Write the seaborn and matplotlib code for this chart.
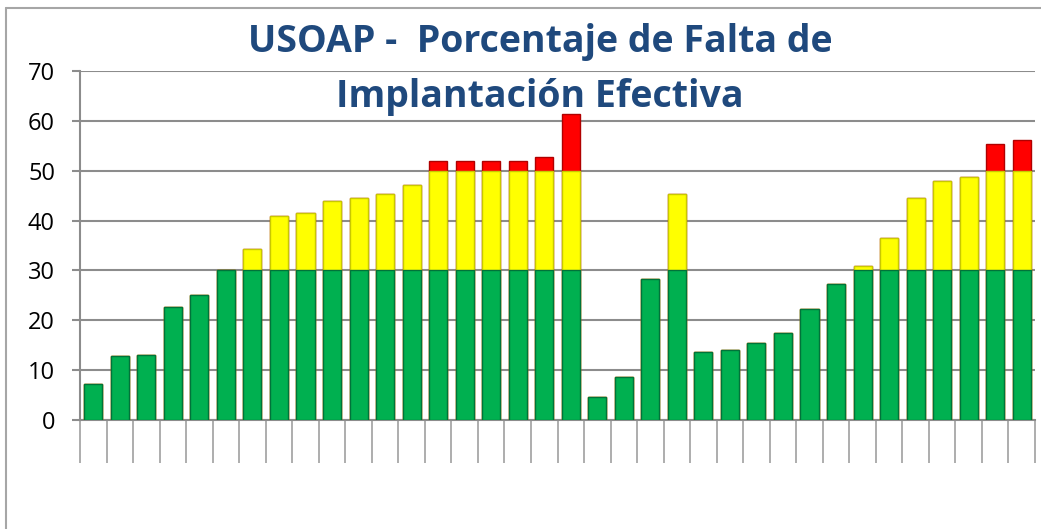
import numpy as np
import pandas as pd
import seaborn as sns
from matplotlib import pyplot as plt
from matplotlib.lines import Line2D

# valores por tramo (verde hasta 30, amarillo 30-50, rojo sobre 50)
verde = [7.3, 12.8, 13.1, 22.6, 25.0, 30.0, 30, 30, 30, 30, 30, 30, 30, 30, 30, 30, 30, 30, 30,
         4.6, 8.7, 28.3, 30, 13.6, 14.0, 15.4, 17.4, 22.3, 27.2, 30, 30, 30, 30, 30, 30, 30]
amarillo = [0, 0, 0, 0, 0, 0.1, 4.3, 11.0, 11.5, 14.0, 14.6, 15.3, 17.2, 20, 20, 20, 20, 20, 20,
            0, 0, 0, 15.4, 0, 0, 0, 0, 0, 0, 0.8, 6.6, 14.6, 18.0, 18.8, 20, 20]
rojo = [0, 0, 0, 0, 0, 0, 0, 0, 0, 0, 0, 0, 0, 2.0, 2.0, 2.0, 2.0, 2.7, 11.4,
        0, 0, 0, 0, 0, 0, 0, 0, 0, 0, 0, 0, 0, 0, 0, 5.4, 6.1]

n = len(verde)
df = pd.DataFrame({'idx': np.arange(n), 'verde': verde, 'amarillo': amarillo, 'rojo': rojo})
df['t2'] = df['verde'] + df['amarillo']
df['t3'] = df['t2'] + df['rojo']

sns.set_style('white')
plt.rcParams['font.family'] = ['Open Sans', 'DejaVu Sans']

fig = plt.figure(figsize=(10.41, 5.29), dpi=100)
ax = fig.add_axes([80 / 1041, 1 - 420 / 529, 955 / 1041, 349 / 529])

w = 0.68
sns.barplot(data=df, x='idx', y='t3', color='#FF0000', saturation=1, width=w,
            edgecolor='#B00000', linewidth=1, ax=ax, zorder=3)
sns.barplot(data=df, x='idx', y='t2', color='#FFFF00', saturation=1, width=w,
            edgecolor='#C8C800', linewidth=1, ax=ax, zorder=3)
sns.barplot(data=df, x='idx', y='verde', color='#00B050', saturation=1, width=w,
            edgecolor='#00733A', linewidth=1, ax=ax, zorder=3)

ax.set_xlim(-0.5, n - 0.5)
ax.set_ylim(0, 70)
ax.set_yticks(range(0, 71, 10))
ax.set_xticks([])
ax.set_xticks(np.arange(-0.5, n, 1), minor=True)
ax.set_xlabel('')
ax.set_ylabel('')
ax.yaxis.grid(True, color='#8C8C8C', linewidth=1.5, zorder=0)
ax.set_axisbelow(True)
for s in ['top', 'right']:
    ax.spines[s].set_visible(False)
for s in ['left', 'bottom']:
    ax.spines[s].set_color('#8C8C8C')
    ax.spines[s].set_linewidth(1.5)
ax.tick_params(axis='y', which='major', direction='out', length=6, width=1.5,
               color='#8C8C8C', labelsize=17, labelcolor='black', pad=12, left=True)
ax.tick_params(axis='x', which='minor', direction='out', length=31, width=1.2,
               color='#A0A0A0', bottom=True)

fig.text(0.519, 1 - 42 / 529, 'USOAP -  Porcentaje de Falta de',
         ha='center', va='center', fontsize=27, fontweight='bold', color='#1F497D')
fig.text(0.519, 1 - 97 / 529, 'Implantación Efectiva',
         ha='center', va='center', fontsize=27, fontweight='bold', color='#1F497D')

# marco del gráfico
fig.add_artist(Line2D([6 / 1041, 6 / 1041], [0, 1 - 8 / 529], transform=fig.transFigure,
                      color='#A6A6A6', linewidth=1.5))
fig.add_artist(Line2D([6 / 1041, 1], [1 - 8 / 529, 1 - 8 / 529], transform=fig.transFigure,
                      color='#A6A6A6', linewidth=1.5))

fig.savefig('out.png', dpi=100)
